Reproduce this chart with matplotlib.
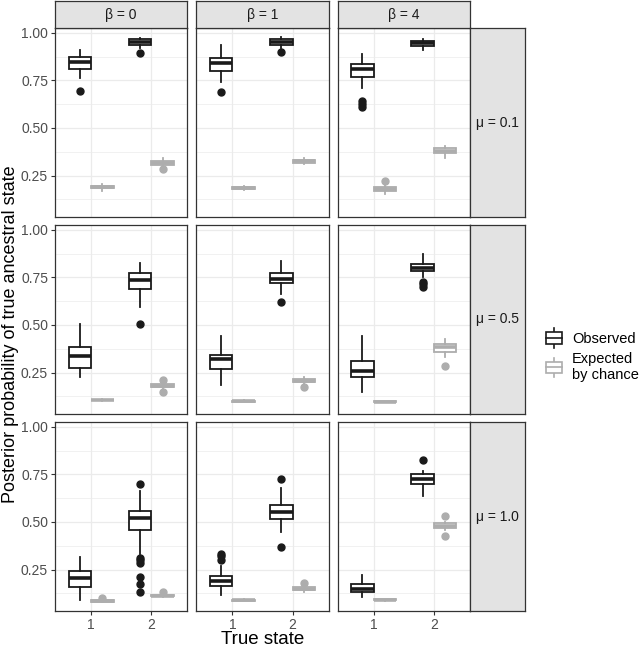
import matplotlib
matplotlib.use("Agg")
import matplotlib.pyplot as plt
from matplotlib.legend_handler import HandlerBase
from matplotlib.patches import Rectangle
from matplotlib.lines import Line2D

plt.rcParams['font.family'] = ['Liberation Sans', 'DejaVu Sans']

# --------------------------------------------------------
# Data: rows = mu, cols = beta, inner = true state (1, 2)
# --------------------------------------------------------
BETA_LABELS = ["β = 0", "β = 1", "β = 4"]
MU_LABELS = ["μ = 0.1", "μ = 0.5", "μ = 1.0"]
STATES = [1, 2]

# Observed
OBS_WHISLO = [[[0.762, 0.920], [0.741, 0.922], [0.709, 0.907]],
              [[0.229, 0.593], [0.183, 0.665], [0.150, 0.752]],
              [[0.089, 0.330], [0.114, 0.447], [0.105, 0.634]]]
OBS_Q1 = [[[0.810, 0.937], [0.800, 0.937], [0.765, 0.932]],
          [[0.276, 0.690], [0.266, 0.718], [0.224, 0.782]],
          [[0.156, 0.459], [0.161, 0.517], [0.130, 0.700]]]
OBS_MED = [[[0.845, 0.952], [0.840, 0.952], [0.809, 0.944]],
           [[0.338, 0.736], [0.322, 0.739], [0.260, 0.800]],
           [[0.203, 0.520], [0.190, 0.552], [0.150, 0.725]]]
OBS_Q3 = [[[0.875, 0.965], [0.868, 0.965], [0.834, 0.956]],
          [[0.386, 0.773], [0.340, 0.775], [0.313, 0.822]],
          [[0.240, 0.557], [0.214, 0.587], [0.172, 0.751]]]
OBS_WHISHI = [[[0.910, 0.970], [0.935, 0.980], [0.888, 0.968]],
              [[0.507, 0.824], [0.440, 0.836], [0.440, 0.875]],
              [[0.317, 0.664], [0.270, 0.678], [0.219, 0.770]]]
OBS_FLIERS = [[[[0.695], [0.893]], [[0.690], [0.900]], [[0.639, 0.625, 0.611], []]],
              [[[], [0.503]], [[], [0.623]], [[], [0.727, 0.715, 0.700]]],
              [[[], [0.700, 0.308, 0.298, 0.284, 0.212, 0.172, 0.131]],
               [[0.300, 0.320, 0.333], [0.725, 0.366]],
               [[], [0.825]]]]

# Expected by chance
EXP_WHISLO = [[[0.168, 0.300], [0.172, 0.310], [0.155, 0.342]],
              [[0.102, 0.165], [0.095, 0.190], [0.093, 0.329]],
              [[0.077, 0.105], [0.085, 0.131], [0.087, 0.460]]]
EXP_Q1 = [[[0.182, 0.307], [0.178, 0.318], [0.167, 0.367]],
          [[0.104, 0.172], [0.097, 0.199], [0.095, 0.359]],
          [[0.080, 0.109], [0.087, 0.142], [0.089, 0.468]]]
EXP_MED = [[[0.190, 0.318], [0.184, 0.326], [0.178, 0.381]],
           [[0.106, 0.180], [0.099, 0.208], [0.097, 0.384]],
           [[0.084, 0.113], [0.089, 0.149], [0.091, 0.480]]]
EXP_Q3 = [[[0.196, 0.328], [0.190, 0.334], [0.190, 0.395]],
          [[0.108, 0.188], [0.101, 0.215], [0.099, 0.401]],
          [[0.088, 0.117], [0.091, 0.156], [0.093, 0.494]]]
EXP_WHISHI = [[[0.205, 0.342], [0.196, 0.342], [0.200, 0.407]],
              [[0.110, 0.195], [0.103, 0.229], [0.101, 0.426]],
              [[0.092, 0.121], [0.093, 0.162], [0.095, 0.500]]]
EXP_FLIERS = [[[[], [0.283]], [[], []], [[0.220], []]],
              [[[], [0.211, 0.150]], [[], [0.174]], [[], [0.285]]],
              [[[0.100], [0.130]], [[], [0.180]], [[], [0.532, 0.427]]]]

OBS_COLOR = "#1a1a1a"
EXP_COLOR = "#adadad"

# --------------------------------------------------------
# Layout (pixels)
# --------------------------------------------------------
W, H = 643, 649
fig = plt.figure(figsize=(W / 100, H / 100), dpi=100)

def rect(x0, y0, x1, y1):
    return [x0 / W, 1 - y1 / H, (x1 - x0) / W, (y1 - y0) / H]

LEFT, RIGHT, TOP, BOTTOM = 55, 470, 28, 611
GAP_X, GAP_Y = 9, 8
PW = (RIGHT - LEFT - 2 * GAP_X) / 3
PH = (BOTTOM - TOP - 2 * GAP_Y) / 3
STRIP_TOP_H = 27
STRIP_RIGHT_W = 55
BORDER = "#333333"
STRIP_FILL = "#e3e3e3"

def draw_group(ax, whislo, q1, med, q3, whishi, fliers, pos, color):
    stats = [dict(whislo=whislo, q1=q1, med=med, q3=q3, whishi=whishi, fliers=fliers)]
    ax.bxp(stats, positions=[pos], widths=0.375, patch_artist=True, showcaps=False,
           manage_ticks=False,
           boxprops=dict(facecolor="white", edgecolor=color, linewidth=1.3),
           medianprops=dict(color=color, linewidth=2.6, solid_capstyle="butt"),
           whiskerprops=dict(color=color, linewidth=1.3),
           flierprops=dict(marker="o", markerfacecolor=color, markeredgecolor=color,
                           markersize=5, linestyle="none"))

for r in range(3):
    for c in range(3):
        x0 = LEFT + c * (PW + GAP_X)
        y0 = TOP + r * (PH + GAP_Y)
        ax = fig.add_axes(rect(x0, y0, x0 + PW, y0 + PH))
        ax.set_xlim(0.4, 2.6)
        ax.set_ylim(0.032, 1.025)
        ax.set_axisbelow(True)
        ax.set_yticks([0.25, 0.5, 0.75, 1.0])
        ax.set_yticks([0.125, 0.375, 0.625, 0.875], minor=True)
        ax.set_xticks(STATES)
        ax.grid(True, which="major", color="#ebebeb", linewidth=0.9)
        ax.grid(True, which="minor", axis="y", color="#ebebeb", linewidth=0.5)
        for s in ax.spines.values():
            s.set_color(BORDER)
            s.set_linewidth(0.9)
        ax.tick_params(which="minor", length=0)
        ax.tick_params(which="major", length=3, width=0.8, color=BORDER,
                       labelsize=10, labelcolor="#4d4d4d", pad=2)
        if c == 0:
            ax.set_yticklabels(["0.25", "0.50", "0.75", "1.00"])
        else:
            ax.tick_params(axis="y", length=0, labelleft=False)
        if r == 2:
            ax.set_xticklabels([str(s) for s in STATES])
        else:
            ax.tick_params(axis="x", length=0, labelbottom=False)

        for k, st in enumerate(STATES):
            draw_group(ax, OBS_WHISLO[r][c][k], OBS_Q1[r][c][k], OBS_MED[r][c][k],
                       OBS_Q3[r][c][k], OBS_WHISHI[r][c][k], OBS_FLIERS[r][c][k],
                       st - 0.1875, OBS_COLOR)
            draw_group(ax, EXP_WHISLO[r][c][k], EXP_Q1[r][c][k], EXP_MED[r][c][k],
                       EXP_Q3[r][c][k], EXP_WHISHI[r][c][k], EXP_FLIERS[r][c][k],
                       st + 0.1875, EXP_COLOR)

        # top strips
        if r == 0:
            sax = fig.add_axes(rect(x0, y0 - STRIP_TOP_H, x0 + PW, y0))
            sax.set_facecolor(STRIP_FILL)
            sax.set_xticks([]); sax.set_yticks([])
            for s in sax.spines.values():
                s.set_color(BORDER); s.set_linewidth(0.9)
            sax.text(0.5, 0.5, BETA_LABELS[c], ha="center", va="center",
                     fontsize=10, color="#1a1a1a", transform=sax.transAxes)
        # right strips
        if c == 2:
            sax = fig.add_axes(rect(x0 + PW, y0, x0 + PW + STRIP_RIGHT_W, y0 + PH))
            sax.set_facecolor(STRIP_FILL)
            sax.set_xticks([]); sax.set_yticks([])
            for s in sax.spines.values():
                s.set_color(BORDER); s.set_linewidth(0.9)
            sax.text(0.5, 0.5, MU_LABELS[r], ha="center", va="center",
                     fontsize=10, color="#1a1a1a", transform=sax.transAxes)

fig.text(11 / W, 1 - 334 / H, "Posterior probability of true ancestral state",
         rotation=90, ha="center", va="center", fontsize=13, color="black")
fig.text(((LEFT + RIGHT) / 2) / W, 1 - 640 / H, "True state",
         ha="center", va="center", fontsize=13.5, color="black")

# --------------------------------------------------------
# Legend with boxplot keys
# --------------------------------------------------------
class BoxKey(HandlerBase):
    def create_artists(self, legend, orig_handle, xdescent, ydescent, width, height,
                       fontsize, trans):
        col = orig_handle.get_color()
        x = -xdescent
        y = -ydescent
        bx0, bw = x + 0.05 * width, 0.9 * width
        by0, bh = y + 0.2 * height, 0.6 * height
        box = Rectangle((bx0, by0), bw, bh, facecolor="white", edgecolor=col,
                        linewidth=1.2, transform=trans)
        med = Line2D([bx0, bx0 + bw], [by0 + bh / 2] * 2, color=col, linewidth=1.2,
                     transform=trans)
        cx = x + width / 2
        w1 = Line2D([cx, cx], [by0 + bh, y + height], color=col, linewidth=1.2,
                    transform=trans)
        w2 = Line2D([cx, cx], [y, by0], color=col, linewidth=1.2, transform=trans)
        return [w1, w2, box, med]

handles = [Line2D([], [], color=OBS_COLOR), Line2D([], [], color=EXP_COLOR)]
fig.legend(handles, ["Observed", "Expected\nby chance"],
           handler_map={Line2D: BoxKey()},
           loc="center left", bbox_to_anchor=(539 / W, 1 - 355 / H),
           frameon=False, fontsize=10.5, handlelength=1.25, handleheight=1.7,
           handletextpad=0.6, labelspacing=0.25, borderaxespad=0)

fig.savefig("out.png", dpi=100)
